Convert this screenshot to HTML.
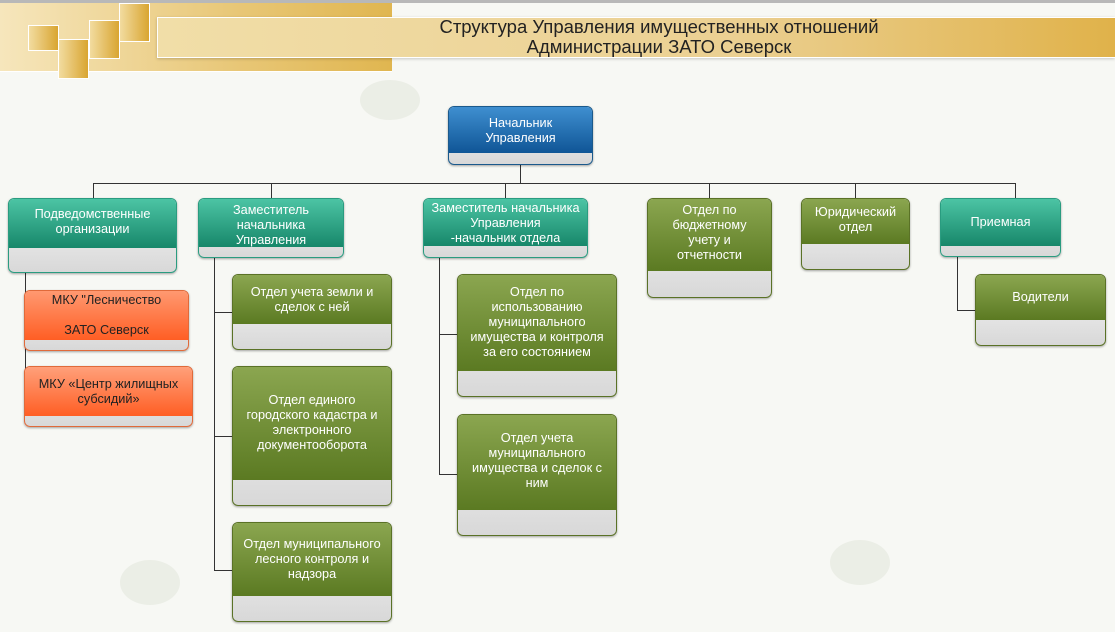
<!DOCTYPE html>
<html><head><meta charset="utf-8"><style>
*{margin:0;padding:0;box-sizing:border-box}
body{width:1115px;height:632px;position:relative;overflow:hidden;background:#f7f8f4;font-family:"Liberation Sans",Arial,sans-serif}
.a{position:absolute}
.band{left:0;top:3px;width:392px;height:69px;background:linear-gradient(90deg,#f6e6bc,#e8c777 60%,#e0b650);border-bottom:1px solid #fff}
.topline{left:0;top:0;width:1115px;height:3px;background:#b8b8b8}
.bar{left:157px;top:17px;width:958px;height:41px;background:linear-gradient(90deg,#f1dea8,#ebd092 60%,#e0b24a);border:1px solid #fff;border-right:none;box-shadow:0 1px 3px rgba(0,0,0,.2)}
.sq{width:31px;background:linear-gradient(90deg,#f2dca0,#d9a531);border:1px solid #fff}
.title{left:270px;width:778px;top:17px;text-align:center;font-size:18.5px;line-height:20px;color:#222}
.n{position:absolute;border-radius:6px;overflow:hidden;background:linear-gradient(#f8f8f8,#d8d8d8);box-shadow:0 1px 2px rgba(0,0,0,.35)}
.n .h{position:absolute;left:0;right:0;top:0;text-align:center;color:#fff;font-size:12.7px;line-height:15px;padding:4px 3px}
.g{border:1px solid #5a7226}.g .h{background:linear-gradient(#8ba650,#5b7a22)}
.t{border:1px solid #2a9c80}.t .h{background:linear-gradient(#4cc4a4,#17876a)}
.b{border:1px solid #1b5a8c}.b .h{background:linear-gradient(#3f8fd0,#0f5596)}
.o{border:1px solid #e06a3a}.o .h{background:linear-gradient(#ffa07a,#ff5e24);color:#222}
.l{position:absolute;background:#333}
.drop{position:absolute;border-radius:50%;background:rgba(210,215,200,.3)}
</style></head><body>
<div class="drop" style="left:360px;top:80px;width:60px;height:40px"></div>
<div class="drop" style="left:830px;top:540px;width:60px;height:45px"></div>
<div class="drop" style="left:120px;top:560px;width:60px;height:45px"></div>
<div class="a topline"></div>
<div class="a band"></div>
<div class="a bar"></div>
<div class="a sq" style="left:28px;top:25px;height:26px"></div>
<div class="a sq" style="left:58px;top:39px;height:40px"></div>
<div class="a sq" style="left:89px;top:20px;height:39px"></div>
<div class="a sq" style="left:119px;top:3px;height:39px"></div>
<div class="a title">Структура Управления имущественных отношений<br>Администрации ЗАТО Северск</div>

<div class="l" style="left:520px;top:165px;width:1px;height:18px"></div>
<div class="l" style="left:93px;top:183px;width:923px;height:1px"></div>
<div class="l" style="left:93px;top:183px;width:1px;height:15px"></div>
<div class="l" style="left:271px;top:183px;width:1px;height:15px"></div>
<div class="l" style="left:505px;top:183px;width:1px;height:15px"></div>
<div class="l" style="left:709px;top:183px;width:1px;height:15px"></div>
<div class="l" style="left:855px;top:183px;width:1px;height:15px"></div>
<div class="l" style="left:1015px;top:183px;width:1px;height:15px"></div>
<div class="l" style="left:25px;top:273px;width:1px;height:148px"></div>
<div class="l" style="left:214px;top:258px;width:1px;height:313px"></div>
<div class="l" style="left:214px;top:312px;width:18px;height:1px"></div>
<div class="l" style="left:214px;top:436px;width:18px;height:1px"></div>
<div class="l" style="left:214px;top:570px;width:18px;height:1px"></div>
<div class="l" style="left:439px;top:258px;width:1px;height:217px"></div>
<div class="l" style="left:439px;top:334px;width:18px;height:1px"></div>
<div class="l" style="left:439px;top:474px;width:18px;height:1px"></div>
<div class="l" style="left:957px;top:257px;width:1px;height:54px"></div>
<div class="l" style="left:957px;top:310px;width:18px;height:1px"></div>

<div class="n b" style="left:448px;top:106px;width:145px;height:59px"><div class="h" style="height:46px;padding-top:9px">Начальник<br>Управления</div></div>
<div class="n t" style="left:8px;top:198px;width:169px;height:75px"><div class="h" style="height:49px;padding-top:8px">Подведомственные<br>организации</div></div>
<div class="n t" style="left:198px;top:198px;width:146px;height:60px"><div class="h" style="height:48px">Заместитель<br>начальника<br>Управления</div></div>
<div class="n t" style="left:423px;top:198px;width:165px;height:60px"><div class="h" style="height:47px;padding-top:2px">Заместитель начальника<br>Управления<br>-начальник отдела</div></div>
<div class="n g" style="left:647px;top:198px;width:125px;height:100px"><div class="h" style="height:72px">Отдел по<br>бюджетному<br>учету и<br>отчетности</div></div>
<div class="n g" style="left:801px;top:198px;width:109px;height:72px"><div class="h" style="height:45px;padding-top:6px">Юридический<br>отдел</div></div>
<div class="n t" style="left:940px;top:198px;width:121px;height:59px"><div class="h" style="height:47px;padding-top:16px">Приемная</div></div>
<div class="n o" style="left:24px;top:290px;width:165px;height:61px"><div class="h" style="height:49px;line-height:30px;padding-top:0;top:-6px;height:55px">МКУ "Лесничество<br>ЗАТО Северск</div></div>
<div class="n o" style="left:24px;top:366px;width:169px;height:61px"><div class="h" style="height:49px;padding-top:10px">МКУ «Центр жилищных<br>субсидий»</div></div>
<div class="n g" style="left:232px;top:274px;width:160px;height:76px"><div class="h" style="height:49px;padding-top:10px">Отдел учета земли и<br>сделок с ней</div></div>
<div class="n g" style="left:232px;top:366px;width:160px;height:140px"><div class="h" style="height:113px;padding-top:26px">Отдел единого<br>городского кадастра и<br>электронного<br>документооборота</div></div>
<div class="n g" style="left:232px;top:522px;width:160px;height:100px"><div class="h" style="height:73px;padding-top:14px">Отдел муниципального<br>лесного контроля и<br>надзора</div></div>
<div class="n g" style="left:457px;top:274px;width:160px;height:123px"><div class="h" style="height:96px;padding-top:10px">Отдел по<br>использованию<br>муниципального<br>имущества и контроля<br>за его состоянием</div></div>
<div class="n g" style="left:457px;top:414px;width:160px;height:122px"><div class="h" style="height:95px;padding-top:16px">Отдел учета<br>муниципального<br>имущества и сделок с<br>ним</div></div>
<div class="n g" style="left:975px;top:274px;width:131px;height:72px"><div class="h" style="height:45px;padding-top:15px">Водители</div></div>
</body></html>
